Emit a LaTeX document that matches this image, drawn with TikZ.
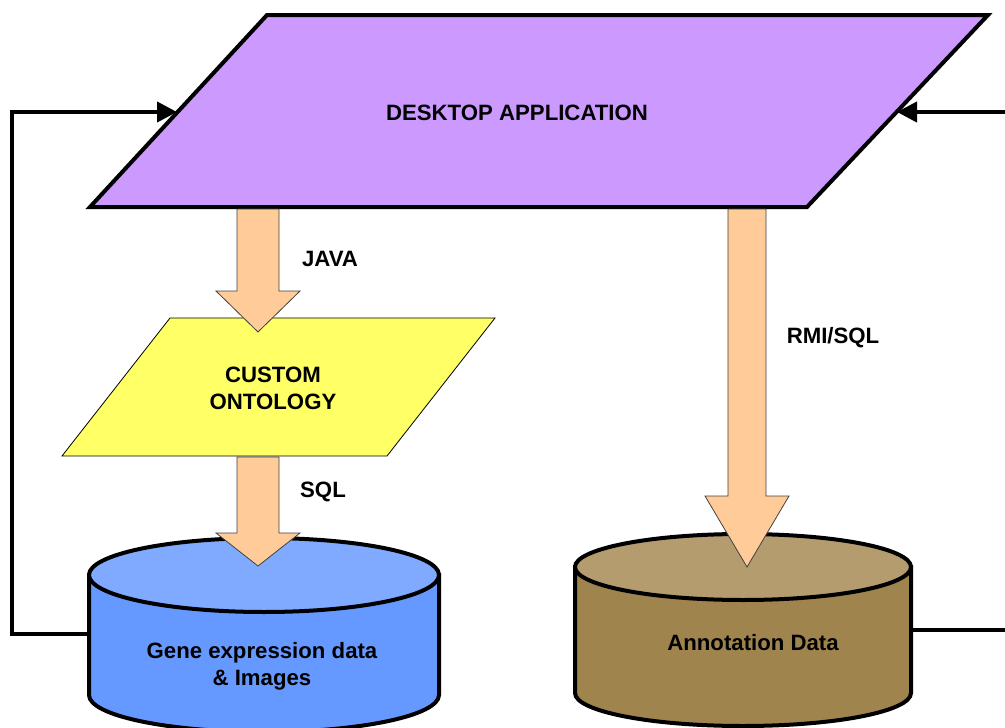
\documentclass[tikz,border=0pt]{standalone}
\usepackage{fontspec}
\setmainfont{Liberation Sans}
\usetikzlibrary{arrows.meta,calc}

\definecolor{appcol}{RGB}{204,153,255}
\definecolor{ontocol}{RGB}{255,255,102}
\definecolor{pipecol}{RGB}{255,204,153}
\definecolor{genecol}{RGB}{102,153,255}
\definecolor{genetop}{RGB}{128,170,255}
\definecolor{annocol}{RGB}{160,132,78}
\definecolor{annotop}{RGB}{180,156,110}

\tikzset{
  txt/.style={font=\fontsize{22.2}{26.8}\selectfont\bfseries, inner sep=0pt, align=center},
  appbox/.style={draw=black, fill=appcol, line width=4pt, line join=miter},
  ontobox/.style={draw=black, fill=ontocol, line width=0.8pt},
  dbline/.style={draw=black, line width=4pt},
  pipe/.style={draw=black!75, fill=pipecol, line width=0.8pt},
  feedback/.style={draw=black, line width=4pt, -{Triangle[length=20pt,width=20pt]}},
}

% fat arrow: start, tip, half shaft width, head length
\newcommand{\fatarrow}[4]{%
  \filldraw[pipe] let \p1=(#1), \p2=(#2) in
    (\x1-#3,\y1) -- (\x1+#3,\y1) -- (\x1+#3,\y2+#4) -- (\x1+42pt,\y2+#4)
    -- (\x2,\y2) -- (\x1-42pt,\y2+#4) -- (\x1-#3,\y2+#4) -- cycle;}

% database: centre x, top y, bottom y, x radius, y radius, body colour, top colour
\newcommand{\dbcyl}[7]{%
  \filldraw[dbline, fill=#6] (#1-#4,#2) -- (#1-#4,#3)
    arc[start angle=180, end angle=0, x radius=#4, y radius=#5] -- (#1+#4,#2) -- cycle;
  \filldraw[dbline, fill=#7] (#1,#2) ellipse [x radius=#4, y radius=#5];}

\begin{document}
\begin{tikzpicture}[x=1pt, y=-1pt]
    \useasboundingbox (0,0) rectangle (1005,728);

    \draw[appbox] (267,15) -- (988,15) -- (807,207) -- (90,207) -- cycle;
    \node[txt] (app) at (517,113) {DESKTOP APPLICATION};

    \draw[ontobox] (170,318) -- (495,318) -- (387,456) -- (62,456) -- cycle;
    \node[txt] (onto) at (273,388) {CUSTOM\\ONTOLOGY};

    \dbcyl{264}{575}{695}{175}{37}{genecol}{genetop}
    \node[txt] (gene) at (262,666) {Gene expression data\\\& Images};

    \dbcyl{743}{567}{693}{168}{33}{annocol}{annotop}
    \node[txt] (anno) at (753,643) {Annotation Data};

    \coordinate (appW) at (177,112);
    \coordinate (appE) at (897,112);
    \coordinate (geneW) at (89,634);
    \coordinate (annoE) at (911,630);
    \coordinate (offR) at (1010,112);
    \coordinate (offRb) at (1010,630);

    \coordinate (javaS) at (258,209);
    \coordinate (javaT) at (258,332);
    \coordinate (sqlS) at (258,457);
    \coordinate (sqlT) at (258,566);
    \coordinate (rmiS) at (747,209);
    \coordinate (rmiT) at (747,567);

    \fatarrow{javaS}{javaT}{21pt}{41pt}
    \fatarrow{sqlS}{sqlT}{21pt}{33pt}
    \fatarrow{rmiS}{rmiT}{19pt}{71pt}

    \node[txt] (java) at (330,259) {JAVA};
    \node[txt] (sql) at (323,492) {SQL};
    \node[txt] (rmi) at (833,338) {RMI/SQL};

    \draw[feedback] (geneW) -- ++(-77,0) |- (appW);
    \draw[feedback] (offR) -- (appE);
    \draw[line width=4pt] (annoE) -- (offRb);

\end{tikzpicture}
\end{document}
